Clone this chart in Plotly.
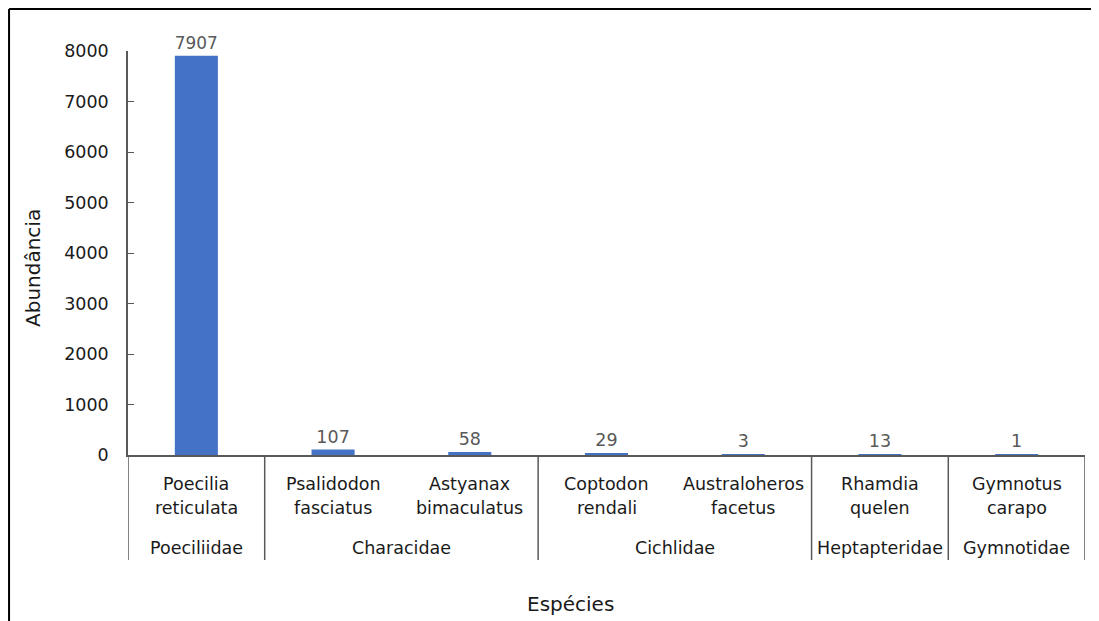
import plotly.graph_objects as go

species = ["Poecilia reticulata", "Psalidodon fasciatus", "Astyanax bimaculatus",
           "Coptodon rendali", "Australoheros facetus", "Rhamdia quelen", "Gymnotus carapo"]
families = ["Poeciliidae", "Characidae", "Characidae", "Cichlidae", "Cichlidae",
            "Heptapteridae", "Gymnotidae"]
abundance = [7907, 107, 58, 29, 3, 13, 1]
y_ticks = [0, 1000, 2000, 3000, 4000, 5000, 6000, 7000, 8000]

FONT = "DejaVu Sans"
AX = "#595959"
TXT = "#1a1a1a"
FS = 17.5
x = list(range(len(species)))

fig = go.Figure()
fig.add_trace(go.Bar(
    x=x, y=abundance, width=0.315,
    marker=dict(color="#4472C4", line=dict(width=0)),
    text=[str(v) for v in abundance], textposition="outside",
    textfont=dict(family=FONT, size=FS, color="#595959"),
    cliponaxis=False, hoverinfo="skip"))

annotations = []
for i, name in enumerate(species):
    l1, l2 = name.split(" ", 1)
    annotations.append(dict(x=i, y=-29 / 404, xref="x", yref="paper", text=l1,
                            yanchor="middle", showarrow=False,
                            font=dict(family=FONT, size=FS, color=TXT)))
    annotations.append(dict(x=i, y=-53 / 404, xref="x", yref="paper", text=l2,
                            yanchor="middle", showarrow=False,
                            font=dict(family=FONT, size=FS, color=TXT)))

# family groups
groups = []
for i, f in enumerate(families):
    if groups and groups[-1][0] == f:
        groups[-1][2] = i
    else:
        groups.append([f, i, i])
shapes = []
bounds = set()
for f, a, b in groups:
    annotations.append(dict(x=(a + b) / 2, y=-93 / 404, xref="x", yref="paper", text=f,
                            yanchor="middle", showarrow=False,
                            font=dict(family=FONT, size=FS, color=TXT)))
    bounds.add(a - 0.5)
    bounds.add(b + 0.5)
for bx in sorted(bounds):
    shapes.append(dict(type="line", xref="x", yref="paper", x0=bx, x1=bx, y0=0, y1=-0.26,
                       line=dict(color=AX, width=1.5)))

annotations.append(dict(x=(570 - 128) / 957, y=-149 / 404, xref="paper", yref="paper",
                        text="Espécies", xanchor="center", yanchor="middle",
                        showarrow=False, font=dict(family=FONT, size=20, color=TXT)))
annotations.append(dict(x=(33 - 128) / 957, y=(455 - 268) / 404, xref="paper", yref="paper",
                        text="Abundância", xanchor="center", yanchor="middle",
                        textangle=-90, showarrow=False,
                        font=dict(family=FONT, size=20, color=TXT)))

# outer frame
shapes.append(dict(type="line", xref="paper", yref="paper", x0=-0.1243, x1=1.05,
                   y0=1.104, y1=1.104, line=dict(color="black", width=2)))
shapes.append(dict(type="line", xref="paper", yref="paper", x0=-0.1243, x1=-0.1243,
                   y0=1.104, y1=-0.45, line=dict(color="black", width=2)))

fig.update_layout(
    width=1091, height=613,
    margin=dict(l=120, r=14, t=43, b=166),
    paper_bgcolor="white", plot_bgcolor="white",
    showlegend=False,
    xaxis=dict(range=[-0.5, 6.5], showticklabels=False, showline=True, linecolor=AX,
               linewidth=1.5, showgrid=False, zeroline=False, ticks=""),
    yaxis=dict(range=[0, 8000], tickvals=y_ticks, showline=True, linecolor=AX, linewidth=1.5,
               ticks="inside", ticklen=6, tickcolor=AX, showgrid=False, zeroline=False,
               tickfont=dict(family=FONT, size=FS, color=TXT), ticklabelstandoff=14),
    annotations=annotations, shapes=shapes,
)
fig.write_html("out.html")
